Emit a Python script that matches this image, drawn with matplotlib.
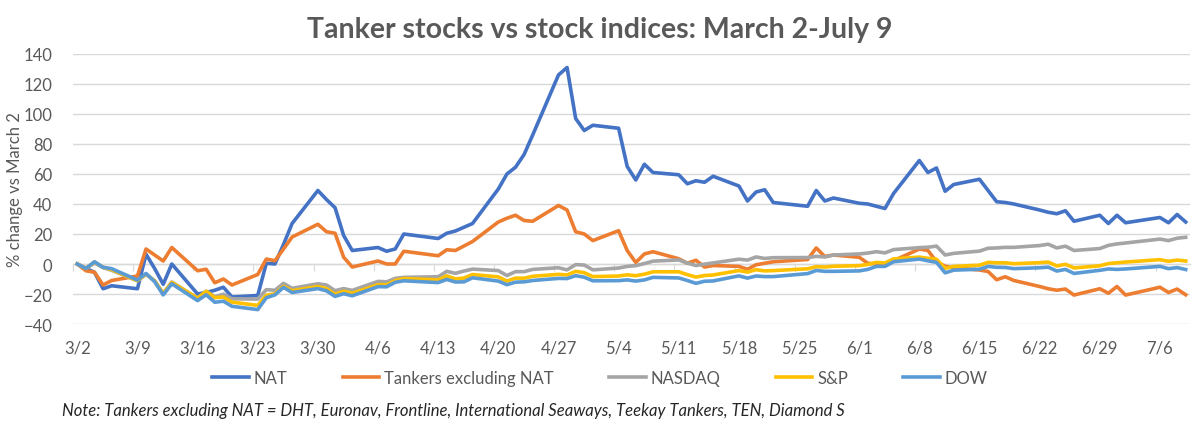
import matplotlib
matplotlib.use("Agg")
import matplotlib.pyplot as plt
import pandas as pd

plt.rcParams['font.family'] = ['Lato', 'DejaVu Sans']

# trading days, 2020
days = ["3/2", "3/3", "3/4", "3/5", "3/6", "3/9", "3/10", "3/11", "3/12", "3/13",
        "3/16", "3/17", "3/18", "3/19", "3/20", "3/23", "3/24", "3/25", "3/26", "3/27",
        "3/30", "3/31", "4/1", "4/2", "4/3", "4/6", "4/7", "4/8", "4/9",
        "4/13", "4/14", "4/15", "4/16", "4/17", "4/20", "4/21", "4/22", "4/23", "4/24",
        "4/27", "4/28", "4/29", "4/30", "5/1", "5/4", "5/5", "5/6", "5/7", "5/8",
        "5/11", "5/12", "5/13", "5/14", "5/15", "5/18", "5/19", "5/20", "5/21", "5/22",
        "5/26", "5/27", "5/28", "5/29", "6/1", "6/2", "6/3", "6/4", "6/5",
        "6/8", "6/9", "6/10", "6/11", "6/12", "6/15", "6/16", "6/17", "6/18", "6/19",
        "6/22", "6/23", "6/24", "6/25", "6/26", "6/29", "6/30", "7/1", "7/2",
        "7/6", "7/7", "7/8", "7/9"]

nat = [0, -3, -5.5, -16.5, -14.5, -16.5, 6.5, -3, -13.5, 0,
       -20, -19, -17.5, -15.5, -22, -21, 0.5, 0, 13, 27,
       49, 43, 37.5, 19, 9, 11, 8.5, 10, 20,
       17, 20.5, 22, 24.5, 27, 50, 60, 64.5, 73, 86,
       126, 131, 97, 89, 92.5, 90.5, 65, 56, 66.5, 61,
       59.5, 53.5, 55.5, 54.5, 58.5, 52, 42, 48, 49.5, 41,
       38.5, 49, 42, 44, 40.5, 40, 38.5, 37, 47,
       69, 61, 64, 48.5, 53, 56.5, 49, 41.5, 41, 40,
       36, 34.5, 33.5, 35.5, 28.5, 32.5, 27, 32.5, 27.5,
       31, 27.5, 33, 28]

tankers = [0, -4.5, -5.5, -14, -11, -8, 10, 6, 2, 11,
           -4.5, -3.5, -12.5, -10, -14, -7, 3.3, 2.2, 10, 18,
           26.5, 21.5, 20.5, 4.5, -2, 2, 0, 0, 8.5,
           5.5, 9.5, 9, 12, 15, 28, 30.5, 32.5, 29, 28.5,
           39, 36, 21.5, 20, 15.6, 22.2, 9, 1, 6.7, 8.2,
           3.5, 0.5, 2.5, -2, -1, -1.6, -3.5, -0.5, 0.5, 1.5,
           3, 10.7, 5, 6, 4.5, 0.5, 0, 0, 2.2,
           10, 9, 1.5, -1.5, -2.5, -4, -5, -10.5, -8.5, -11,
           -15, -16.5, -17.5, -16.7, -20.7, -16.5, -19.5, -15, -20.7,
           -15.5, -19, -16.7, -20.5]

nasdaq = [0, -3.0, 0.7, -2.4, -4.2, -11.2, -6.8, -11.2, -19.6, -12.0,
          -22.9, -18.1, -21.9, -20.1, -23.2, -23.4, -17.1, -17.5, -12.9, -16.2,
          -13.2, -14.0, -17.8, -16.4, -17.6, -11.6, -11.9, -9.6, -8.9,
          -8.5, -4.9, -6.2, -4.7, -3.4, -4.4, -7.7, -5.1, -5.1, -3.6,
          -2.5, -3.9, -0.4, -0.7, -3.9, -2.7, -1.6, -1.1, 0.3, 1.9,
          2.7, 0.6, -1.0, -0.1, 0.7, 3.2, 2.6, 4.7, 3.7, 4.2,
          4.3, 5.1, 4.7, 6.0, 6.7, 7.3, 8.2, 7.4, 9.6,
          10.9, 11.2, 11.9, 6.0, 7.1, 8.6, 10.5, 10.7, 11.1, 11.1,
          12.3, 13.2, 10.7, 11.9, 9.0, 10.3, 12.4, 13.4, 14.0,
          16.6, 15.6, 17.2, 17.8]

sp = [0, -2.8, 1.3, -2.1, -3.8, -11.1, -6.7, -11.3, -19.7, -12.3,
      -22.8, -18.2, -22.4, -22.0, -25.4, -27.6, -20.8, -19.9, -14.9, -17.8,
      -15.0, -16.4, -20.1, -18.2, -19.5, -13.8, -13.9, -11.0, -9.7,
      -10.6, -7.9, -9.9, -9.4, -7.0, -8.6, -11.4, -9.4, -9.5, -8.2,
      -6.9, -7.3, -4.9, -5.8, -8.4, -8.0, -7.2, -7.8, -6.8, -5.2,
      -5.2, -7.1, -8.7, -7.7, -7.3, -4.4, -5.4, -3.8, -4.6, -4.4,
      -3.2, -1.8, -2.0, -1.5, -1.1, -0.3, 1.1, 0.7, 3.4,
      4.6, 3.8, 3.2, -2.9, -1.6, -0.8, 1.1, 0.8, 0.8, 0.2,
      0.9, 1.3, -1.3, -0.2, -2.6, -1.2, 0.3, 0.8, 1.3,
      2.9, 1.8, 2.6, 2.0]

dow = [0, -2.9, 1.5, -2.2, -3.1, -10.7, -6.3, -11.8, -20.6, -13.2,
       -24.4, -20.5, -25.5, -24.8, -28.2, -30.4, -22.5, -20.6, -15.6, -19.0,
       -16.4, -17.9, -21.6, -19.8, -21.2, -15.1, -15.2, -12.2, -11.2,
       -12.4, -10.3, -12.0, -11.9, -9.2, -11.4, -13.8, -12.1, -11.9, -11.0,
       -9.6, -9.7, -7.8, -8.8, -11.2, -11.1, -10.6, -11.4, -10.6, -8.9,
       -9.3, -11.0, -12.9, -11.5, -11.3, -7.9, -9.4, -8.0, -8.4, -8.4,
       -6.4, -4.3, -4.9, -4.9, -4.6, -3.6, -1.6, -1.6, 1.5,
       3.3, 2.1, 1.1, -5.9, -4.1, -3.5, -1.6, -2.2, -2.3, -3.1,
       -2.5, -2.1, -4.7, -3.6, -6.3, -4.2, -3.3, -3.6, -3.3,
       -1.6, -3.1, -2.4, -3.7]

series = [("NAT", nat, "#4472C4"),
          ("Tankers excluding NAT", tankers, "#ED7D31"),
          ("NASDAQ", nasdaq, "#A5A5A5"),
          ("S&P", sp, "#FFC000"),
          ("DOW", dow, "#5B9BD5")]

week_labels = ["3/2", "3/9", "3/16", "3/23", "3/30", "4/6", "4/13", "4/20", "4/27",
               "5/4", "5/11", "5/18", "5/25", "6/1", "6/8", "6/15", "6/22", "6/29", "7/6"]

dates = pd.to_datetime(["2020/" + d for d in days])
week_dates = pd.to_datetime(["2020/" + d for d in week_labels])
half = pd.Timedelta(hours=12)

txt = "#595959"
grid = "#D9D9D9"

fig = plt.figure(figsize=(12, 4.39), dpi=100)
ax = fig.add_axes([73 / 1200, 1 - 325 / 439, (1190 - 73) / 1200, 270 / 439])

for name, vals, col in series:
    ax.plot(dates, vals, color=col, lw=2.6, label=name, solid_joinstyle="round")

ax.set_ylim(-40, 140)
ax.set_yticks(range(-40, 141, 20))
ax.set_xlim(dates[0] - half, dates[-1] + half)
ax.set_xticks(week_dates)
ax.set_xticklabels(week_labels)
ax.tick_params(axis="x", length=0, pad=11, labelsize=12, labelcolor=txt)
ax.tick_params(axis="y", length=0, pad=15, labelsize=12, labelcolor=txt)
ax.grid(axis="y", color=grid, lw=1)
ax.set_axisbelow(True)
for s in ax.spines.values():
    s.set_visible(False)

# horizontal axis line sits at 0, tick marks between days
zero = ax.secondary_xaxis(40 / 180)
zero.spines["bottom"].set_color(grid)
zero.spines["bottom"].set_linewidth(1)
zero.set_xticks(week_dates - half)
zero.tick_params(axis="x", length=5, color=grid, labelbottom=False)

fig.text(15 / 1200, 1 - 190 / 439, "% change vs March 2", rotation=90,
         ha="center", va="center", fontsize=12, color=txt)

fig.text(0.5, 1 - 30 / 439, "Tanker stocks vs stock indices: March 2-July 9",
         ha="center", va="center", fontsize=20.5, fontweight="bold", color=txt)

fig.legend(loc="center", bbox_to_anchor=(0.5, 1 - 379 / 439), ncol=5, frameon=False,
           fontsize=12, labelcolor=txt, handlelength=2.2, columnspacing=3.3, handletextpad=0.3)

fig.text(62 / 1200, 1 - 411 / 439,
         "Note: Tankers excluding NAT = DHT, Euronav, Frontline, International Seaways, Teekay Tankers, TEN, Diamond S",
         ha="left", va="center", fontsize=12, style="italic", color="#262626")

fig.savefig("out.png", dpi=100)
